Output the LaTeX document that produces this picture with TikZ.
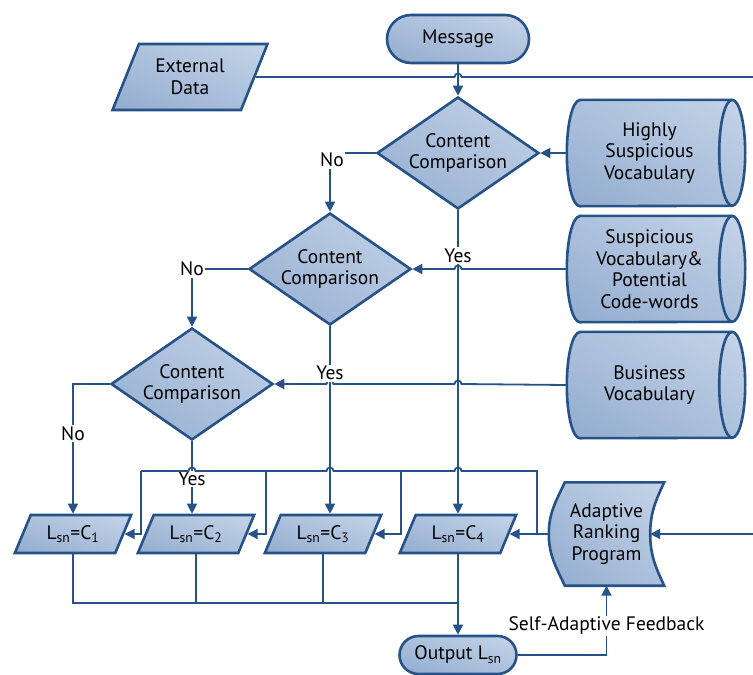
\documentclass[tikz,border=0pt]{standalone}
\usepackage{fontspec}
\setmainfont{PT Sans}
\usetikzlibrary{positioning,calc,shapes.geometric,shapes.misc,arrows.meta,backgrounds,shadings}

\definecolor{flowline}{RGB}{38,82,135}
\definecolor{boxlight}{RGB}{197,212,232}
\definecolor{boxmid}{RGB}{172,193,220}
\definecolor{boxdark}{RGB}{146,172,207}

% hop over a vertical line, path running left to right
\newcommand{\hopat}[1]{-- ($(#1)+(-3.5pt,0)$) arc[start angle=180,end angle=0,radius=3.5pt]}
% lying drum round a text node
\newcommand{\drumat}[1]{%
  \draw[boxpaint] ($(#1.north west)+(13,0)$) -- (#1.north east)
    arc[start angle=90,end angle=-90,x radius=13pt,y radius=53pt]
    -- ($(#1.south west)+(13,0)$)
    arc[start angle=270,end angle=90,x radius=13pt,y radius=53pt] -- cycle;
  \draw[draw=flowline, line width=2.6pt] (#1.north east)
    arc[start angle=90,end angle=270,x radius=13pt,y radius=53pt];}

\begin{document}
\begin{tikzpicture}[x=1pt,y=1pt,
    boxpaint/.style={draw=flowline, line width=2.6pt, upper right=boxlight, lower left=boxdark, upper left=boxmid, lower right=boxmid},
    boxtext/.style={font=\fontsize{19.5}{21.5}\selectfont, align=center, inner sep=0pt, text=black},
    box/.style={boxpaint, boxtext},
    terminal/.style={box, rounded rectangle, minimum width=142pt, minimum height=48pt},
    inout/.style={box, trapezium, trapezium stretches=true, trapezium left angle=60, trapezium right angle=120, minimum width=117pt, minimum height=38pt},
    decision/.style={box, diamond, aspect=1.45, minimum width=162pt, minimum height=112pt},
    vocab/.style={boxtext, minimum width=165pt, minimum height=106pt},
    link/.style={draw=flowline, line width=1.8pt},
    arr/.style={link, -{Triangle[length=10pt,width=10pt]}},
    arrl/.style={link, {Triangle[length=10pt,width=10pt]}-},
    lbl/.style={fill=white, inner sep=1.5pt, font=\fontsize{19.5}{21.5}\selectfont}]
  \useasboundingbox (0,0) rectangle (753,-675);

  % blocks
  \node[terminal] (msg) at (458,-39) {Message};
  \node[inout, trapezium left angle=63, trapezium right angle=117, minimum width=155pt, minimum height=66pt] (ext) at (190,-77) {External\\Data};
  \node[decision] (d1) at (458,-153) {Content\\Comparison};
  \node[decision] (d2) at (330,-269) {Content\\Comparison};
  \node[decision] (d3) at (192,-384) {Content\\Comparison};
  \node[vocab] (hsv) at (649.5,-153) {Highly\\Suspicious\\Vocabulary};
  \node[vocab] (svc) at (649.5,-269) {Suspicious\\Vocabulary\&\\Potential\\Code-words};
  \node[vocab] (bv) at (649.5,-385) {Business\\Vocabulary};
  \node[inout] (l1) at (73,-534) {L\textsubscript{sn}=C\textsubscript{1}};
  \node[inout] (l2) at (196,-534) {L\textsubscript{sn}=C\textsubscript{2}};
  \node[inout] (l3) at (323,-534) {L\textsubscript{sn}=C\textsubscript{3}};
  \node[inout] (l4) at (458,-534) {L\textsubscript{sn}=C\textsubscript{4}};
  \node[boxtext, minimum width=115pt, minimum height=103pt] (arp) at (606.5,-534) {Adaptive\\Ranking\\Program};
  \node[terminal, minimum width=117pt, minimum height=38pt] (out) at (458,-655) {Output L\textsubscript{sn}};

  \begin{scope}[on background layer]
    \drumat{hsv}
    \drumat{svc}
    \drumat{bv}
    \draw[boxpaint] ($(arp.north west)+(16,0)$) -- (arp.north east)
      to[out=-115,in=90] ($(arp.east)+(-14,0)$) to[out=-90,in=115] (arp.south east)
      -- ($(arp.south west)+(16,0)$) to[out=115,in=-90] (arp.west)
      to[out=90,in=-115] ($(arp.north west)+(16,0)$) -- cycle;
  \end{scope}

  \coordinate (extend) at (753,-77);
  \coordinate (arpsrc) at (753,-534);
  \coordinate (arpin) at ($(arp.east)+(-14,0)$);
  \coordinate (b1) at (141,-471);
  \coordinate (b2) at (266,-471);
  \coordinate (b3) at (401,-471);
  \coordinate (b4) at (537,-471);
  \coordinate (mrg) at (458,-603);

  % decisions
  \draw[link] (ext.east) \hopat{msg.south |- ext.east} -- (extend);
  \draw[arr] (msg.south) -- (d1.north);
  \draw[arr] (hsv.west) -- (d1.east);
  \draw[arrl] (d2.east) \hopat{d1.south |- d2.east} -- (svc.west);
  \draw[arrl] (d3.east) \hopat{d2.south |- d3.east} \hopat{d1.south |- d3.east} -- (bv.west);
  \draw[arr] (d1.west) -| node[lbl, pos=0.5, yshift=-7pt, xshift=2pt] {No} (d2.north);
  \draw[arr] (d2.west) -| node[lbl, pos=0.5] {No} (d3.north);
  \draw[arr] (d3.west) -| node[lbl, pos=0.69] {No} (l1.center |- l1.north);
  \draw[arr] (d1.south) -- node[lbl, pos=0.15] {Yes} (d1.south |- l4.north);
  \draw[arr] (d2.south) -- node[lbl, pos=0.25] {Yes} (d2.south |- l3.north);
  \draw[arr] (d3.south) -- node[lbl, pos=0.52] {Yes} (d3.south |- l2.north);

  % ranking bus
  \draw[arr] (arp.west) -- (l4.east);
  \draw[link] (b1) \hopat{d3.south |- b1} -- (b2) \hopat{d2.south |- b1} -- (b3) \hopat{d1.south |- b1} -- (b4) -- (b4 |- arp.west);
  \draw[arr] (b1) |- (l1.east);
  \draw[arr] (b2) |- (l2.east);
  \draw[arr] (b3) |- (l3.east);
  \draw[arr] (arpsrc) -- (arpin);

  % output
  \draw[link] (l1.center |- l1.south) |- (mrg);
  \draw[link] (l2.center |- l2.south) -- (l2.center |- mrg);
  \draw[link] (l3.center |- l3.south) -- (l3.center |- mrg);
  \draw[arr] (l4.center |- l4.south) -- (out.north);
  \draw[arr] (out.east) -| node[lbl, pos=0.71] {Self-Adaptive Feedback} (arp.south);
\end{tikzpicture}
\end{document}
